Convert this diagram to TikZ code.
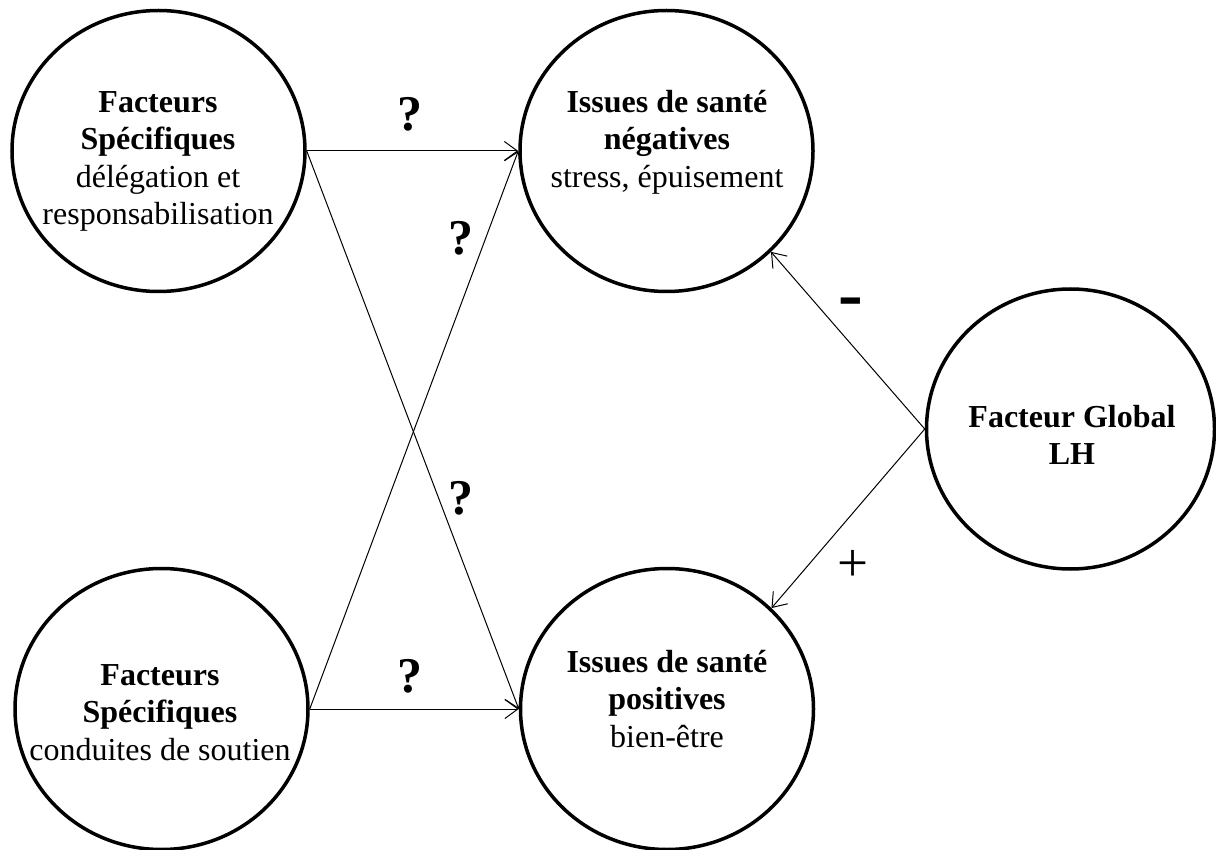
\documentclass[tikz,border=0pt]{standalone}
\usepackage{fontspec}
\setmainfont{Liberation Serif}
\usetikzlibrary{shapes.geometric,arrows.meta}
\begin{document}
\begin{tikzpicture}[x=1pt,y=-1pt,
  bubble/.style={ellipse, draw, line width=3.5pt, minimum width=293pt,
                 minimum height=281pt, inner sep=0pt},
  txt/.style={align=center, anchor=north, inner sep=0pt,
              font=\fontsize{32}{37.5}\selectfont},
  link/.style={line width=1pt,
               -{Straight Barb[length=13pt,width=19pt,line width=1pt]}},
  qmark/.style={inner sep=0pt, font=\fontsize{50}{60}\selectfont\bfseries},
  minussign/.style={inner sep=0pt, font=\fontsize{74}{80}\selectfont\bfseries},
  plussign/.style={inner sep=0pt, font=\fontsize{55}{65}\selectfont}
]
\useasboundingbox (0,0) rectangle (1216,850);

% the five factor / outcome bubbles
\node[bubble] (TL) at (158.5,151) {};
\node[bubble] (TM) at (666.5,151) {};
\node[bubble] (BL) at (161.5,709) {};
\node[bubble] (BM) at (667,709) {};
\node[bubble, minimum width=288pt, minimum height=280pt] (R) at (1070.5,429) {};

% bubble texts
\node[txt] (tTL) at (158,91) {\textbf{Facteurs}\\\textbf{Spécifiques}\\délégation et\\responsabilisation};
\node[txt] (tTM) at (667,90) {\textbf{Issues de santé}\\\textbf{négatives}\\stress, épuisement};
\node[txt] (tBL) at (160,664) {\textbf{Facteurs}\\\textbf{Spécifiques}\\conduites de soutien};
\node[txt] (tBM) at (667,650) {\textbf{Issues de santé}\\\textbf{positives}\\bien-être};
\node[txt] (tR) at (1072,405) {\textbf{Facteur Global}\\\textbf{LH}};

% links between specific factors and outcomes
\draw[link] (TL.east) -- (TM.west);
\draw[link] (TL.east) -- (BM.west);
\draw[link] (BL.east) -- (TM.west);
\draw[link] (BL.east) -- (BM.west);

% links from the global factor
\draw[link] (R.west) -- (TM.-44);
\draw[link] (R.west) -- (BM.44);

% link signs
\node[qmark] (q1) at (410,114) {?};
\node[qmark] (q2) at (461,238) {?};
\node[qmark] (q3) at (460.5,498) {?};
\node[qmark] (q4) at (410,676) {?};
\node[minussign] (sminus) at (850.5,308) {-};
\node[plussign] (splus) at (853,566) {+};
\end{tikzpicture}
\end{document}
